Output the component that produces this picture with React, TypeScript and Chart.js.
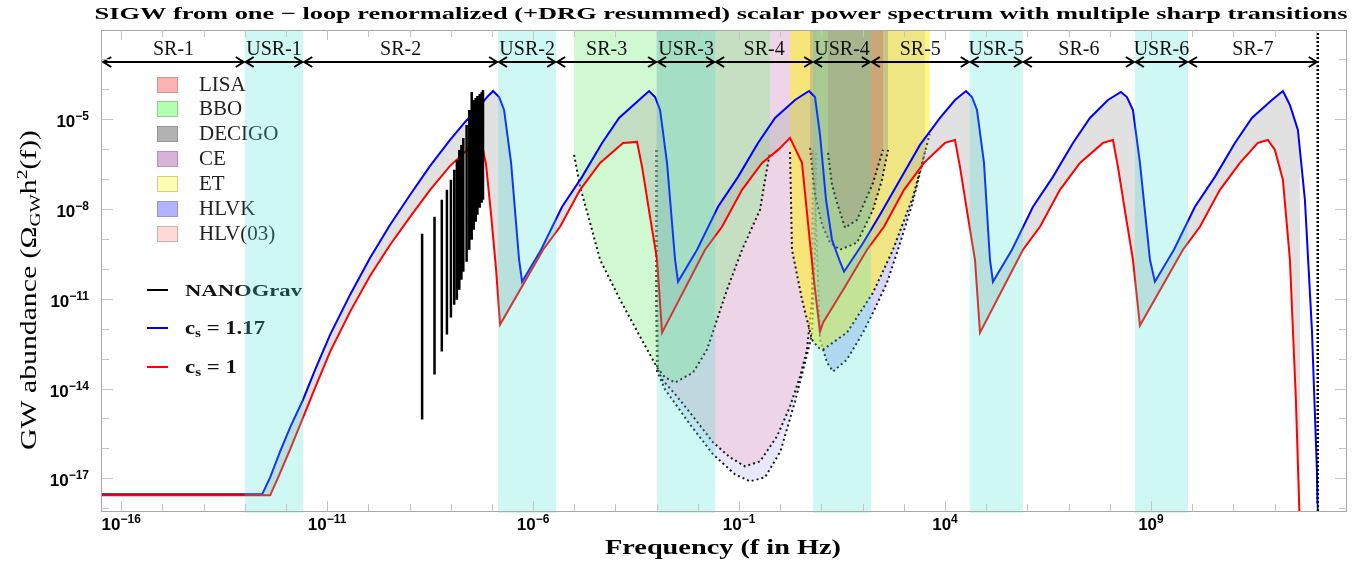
import React, { useEffect, useRef } from "react";
import { Chart, registerables } from "chart.js";

Chart.register(...registerables);

// ---- axis ranges (log10 units) ----
const X_LOG_MIN = -16.49;
const X_LOG_MAX = 13.76;
const Y_LOG_MIN = -18.09;
const Y_LOG_MAX = -2.03;

const X_TICK_LABEL_EXPS = [-16, -11, -6, -1, 4, 9];
const Y_TICK_LABEL_EXPS = [-17, -14, -11, -8, -5];

// ---- ultra-slow-roll windows (log10 f) ----
const USR_START = [-13.0, -6.85, -2.99, 0.8, 4.6, 8.61];
const USR_END = [-11.58, -5.44, -1.58, 2.2, 5.89, 9.9];
const REGION_EDGES = [-16.46, -13.0, -11.58, -6.85, -5.44, -2.99, -1.58, 0.8, 2.2, 4.6, 5.89, 8.61, 9.9, 13.05];
const REGION_LABELS = ["SR-1", "USR-1", "SR-2", "USR-2", "SR-3", "USR-3", "SR-4", "USR-4", "SR-5", "USR-5", "SR-6", "USR-6", "SR-7"];
const CUTOFF_LOGF = 13.05;

// ---- c_s = 1.17 (blue) ----
const BLUE_LOGF = [-16.485, -12.578, -12.383, -12.141, -11.898, -11.583, -11.291, -10.927, -10.442, -9.956, -9.471, -8.985, -8.5, -8.015, -7.65, -7.335, -7.092, -6.971, -6.825, -6.704, -6.534, -6.34, -6.267,
  -5.806, -5.296, -4.811, -4.325, -3.913, -3.427, -3.184, -3.039, -2.917, -2.748, -2.553, -2.481,
  -2.019, -1.51, -1.024, -0.539, -0.126, 0.359, 0.699, 0.845, 0.966, 1.112, 1.257, 1.451, 1.549,
  1.985, 2.422, 2.908, 3.393, 3.879, 4.243, 4.51, 4.655, 4.777, 4.947, 5.092, 5.165,
  5.626, 6.136, 6.621, 7.107, 7.519, 7.956, 8.272, 8.417, 8.563, 8.733, 8.976, 9.097,
  9.558, 10.068, 10.553, 11.039, 11.451, 11.937, 12.204, 12.374, 12.568, 12.738, 12.908, 13.029, 13.053];
const BLUE_LOGO = [-17.533, -17.533, -16.967, -16.1, -15.3, -14.367, -13.367, -12.2, -10.867, -9.633, -8.533, -7.533, -6.567, -5.7, -5.1, -4.633, -4.233, -4.067, -4.267, -4.7, -6.467, -9.7, -10.433,
  -9.367, -7.933, -6.933, -5.8, -4.967, -4.367, -4.067, -4.267, -4.7, -6.467, -9.7, -10.433,
  -9.367, -7.933, -6.933, -5.8, -4.967, -4.367, -4.067, -4.267, -5.533, -7.7, -9.033, -9.767, -10.1,
  -9.2, -8.2, -7.033, -5.867, -4.967, -4.367, -4.067, -4.267, -4.7, -6.467, -9.7, -10.433,
  -9.367, -7.933, -6.933, -5.8, -4.967, -4.367, -4.1, -4.267, -4.7, -6.467, -9.7, -10.433,
  -9.367, -7.933, -6.933, -5.8, -4.967, -4.367, -4.067, -4.533, -5.367, -7.7, -12.033, -16.7, -18.7];

// ---- c_s = 1 (red) ----
const RED_LOGF = [-16.485, -12.383, -12.189, -11.898, -11.583, -11.291, -10.927, -10.442, -9.956, -9.471, -8.985, -8.5, -8.015, -7.65, -7.335, -7.238, -7.141, -7.019, -6.898, -6.801,
  -5.757, -5.345, -4.859, -4.374, -3.816, -3.476, -3.354, -3.16, -2.99, -2.869,
  -1.825, -1.413, -0.927, -0.442, -0.053, 0.238, 0.529, 0.723, 0.845, 0.966,
  1.039, 1.573, 2.107, 2.519, 3.005, 3.49, 4.0, 4.243, 4.364, 4.558, 4.728, 4.85,
  5.893, 6.306, 6.791, 7.277, 7.835, 8.078, 8.199, 8.393, 8.563, 8.733,
  9.777, 10.189, 10.675, 11.16, 11.597, 11.84, 12.01, 12.204, 12.374, 12.519, 12.617];
const RED_LOGO = [-17.567, -17.567, -16.967, -16.033, -14.967, -13.967, -12.767, -11.433, -10.233, -9.2, -8.267, -7.367, -6.567, -6.1, -5.733, -5.867, -6.533, -8.2, -10.033, -11.867,
  -9.367, -8.6, -7.367, -6.467, -5.8, -5.767, -6.6, -8.267, -9.7, -12.133,
  -9.367, -8.6, -7.367, -6.467, -6.033, -5.633, -6.467, -9.133, -10.7, -12.1,
  -11.8, -10.6, -9.367, -8.6, -7.367, -6.467, -5.8, -5.7, -6.6, -8.267, -9.7, -12.133,
  -9.367, -8.6, -7.367, -6.467, -5.8, -5.7, -6.6, -8.267, -9.7, -11.9,
  -9.367, -8.6, -7.367, -6.467, -5.8, -5.7, -6.033, -7.033, -9.7, -14.367, -18.7];

// ---- detector sensitivity curves ----
const LISA_LOGF = [-5.005, -4.859, -4.617, -4.374, -3.889, -3.403, -2.99, -2.796, -2.553, -2.117, -1.777, -1.534, -1.291, -0.927, -0.49, -0.369, -0.248];
const LISA_LOGO = [-6.2, -7.267, -8.467, -9.7, -11.033, -12.267, -13.3, -13.633, -13.8, -13.467, -12.7, -11.7, -10.7, -9.367, -8.033, -7.033, -6.1];
const DECIGO_LOGF = [-2.99, -2.99, -2.966, -2.869, -2.505, -2.117, -1.631, -1.218, -0.854, -0.49, -0.078, 0.238, 0.481, 0.65, 0.772, 0.796];
const DECIGO_LOGO = [-6.033, -11.033, -13.367, -13.7, -14.267, -14.933, -15.8, -16.3, -16.6, -16.433, -15.6, -14.6, -13.6, -12.7, -11.033, -6.033];
const BBO_LOGF = [-3.015, -3.015, -2.99, -2.796, -2.189, -1.631, -1.097, -0.733, -0.369, 0.005, 0.359, 0.602, 0.772, 0.845, 0.869];
const BBO_LOGO = [-6.033, -11.033, -13.433, -14.033, -15.2, -16.2, -16.867, -17.1, -16.967, -16.1, -14.433, -13.133, -12.2, -9.367, -6.033];
const ET_LOGF = [0.238, 0.286, 0.529, 0.772, 0.917, 1.039, 1.621, 2.252, 2.738, 3.223, 3.515, 3.63];
const ET_LOGO = [-6.1, -9.367, -11.033, -12.367, -12.633, -12.7, -12.133, -10.8, -9.367, -7.6, -6.1, -5.5];
const CE_LOGF = [0.796, 0.893, 0.966, 1.136, 1.282, 1.621, 2.01, 2.252, 2.592, 2.859, 3.199, 3.442, 3.515];
const CE_LOGO = [-6.033, -9.367, -12.367, -13.133, -13.433, -13.033, -12.133, -11.467, -10.467, -9.367, -7.867, -6.533, -6.033];
const HLVK_LOGF = [0.723, 0.845, 1.015, 1.209, 1.451, 1.864, 2.252, 2.471, 2.617];
const HLVK_LOGO = [-5.967, -7.533, -8.533, -9.133, -9.367, -9.133, -8.033, -7.033, -6.033];
const HLV_LOGF = [1.16, 1.257, 1.379, 1.573, 1.864, 2.252, 2.495];
const HLV_LOGO = [-6.133, -7.2, -7.8, -8.633, -8.367, -7.133, -6.033];

// ---- NANOGrav free spectrum (log10 f, lower / upper log10 Omega) ----
const NANO_LOGF = [-8.694, -8.393, -8.216, -8.092, -7.995, -7.915, -7.85, -7.791, -7.74, -7.694, -7.614, -7.549, -7.49, -7.439, -7.393, -7.352, -7.296, -7.248, -7.216];
const NANO_LOW = [-15.033, -13.533, -12.767, -12.2, -11.633, -11.2, -11.033, -10.7, -10.367, -10.1, -9.767, -9.367, -9.033, -8.7, -8.433, -8.2, -7.967, -7.8, -7.7];
const NANO_HIGH = [-8.833, -8.267, -7.7, -7.367, -7.033, -6.7, -6.367, -6.033, -5.867, -5.633, -5.2, -4.7, -4.1, -4.367, -4.3, -4.233, -4.167, -4.1, -4.033];

const DETECTOR_NAMES = ["LISA", "BBO", "DECIGO", "CE", "ET", "HLVK", "HLV(03)"];
const DETECTOR_SWATCH = ["rgb(255,178,178)", "rgb(178,255,178)", "rgb(178,178,178)", "rgb(216,178,216)", "rgb(255,255,178)", "rgb(178,178,255)", "rgb(255,216,216)"];
const DETECTOR_EDGE = ["rgb(205,150,150)", "rgb(150,205,150)", "rgb(150,150,150)", "rgb(180,150,180)", "rgb(205,205,150)", "rgb(150,150,205)", "rgb(205,175,175)"];

const TITLE = "SIGW from one \u2212 loop renormalized (+DRG resummed) scalar power spectrum with multiple sharp transitions";

const SERIF = "'Liberation Serif', 'DejaVu Serif', serif";
const SANS = "'Liberation Sans', Arial, sans-serif";

type Part = { t: string; font: string; dy?: number };

function pts(lf: number[], lo: number[]) {
  return lf.map((v, i) => ({ x: Math.pow(10, v), y: Math.pow(10, lo[i]) }));
}

function drawParts(ctx: CanvasRenderingContext2D, parts: Part[], x: number, y: number, align: string, targetW?: number) {
  const ws: number[] = [];
  let total = 0;
  for (const p of parts) {
    ctx.font = p.font;
    const w = ctx.measureText(p.t).width;
    ws.push(w);
    total += w;
  }
  const s = targetW ? targetW / total : 1;
  const W = total * s;
  const x0 = align === "left" ? x : align === "center" ? x - W / 2 : x - W;
  ctx.save();
  ctx.textAlign = "left";
  ctx.textBaseline = "alphabetic";
  ctx.translate(x0, y);
  ctx.scale(s, 1);
  let cx = 0;
  parts.forEach((p, i) => {
    ctx.font = p.font;
    ctx.fillText(p.t, cx, p.dy || 0);
    cx += ws[i];
  });
  ctx.restore();
}

const overlayPlugin = {
  id: "overlay",
  beforeDraw(chart: any) {
    const ctx = chart.ctx as CanvasRenderingContext2D;
    ctx.save();
    ctx.fillStyle = "#ffffff";
    ctx.fillRect(0, 0, chart.width, chart.height);
    ctx.restore();
  },
  afterDatasetsDraw(chart: any) {
    const ctx = chart.ctx as CanvasRenderingContext2D;
    const a = chart.chartArea;
    const xs = chart.scales.x;
    const ys = chart.scales.y;
    const px = (lf: number) => xs.getPixelForValue(Math.pow(10, lf));
    const py = (lo: number) => ys.getPixelForValue(Math.pow(10, lo));
    ctx.save();

    // legend: detector swatches
    const rowY = [85, 109, 134, 159, 184, 209, 234];
    DETECTOR_NAMES.forEach((name, i) => {
      const cy = rowY[i];
      ctx.fillStyle = DETECTOR_SWATCH[i];
      ctx.fillRect(157, cy - 8, 21, 16);
      ctx.strokeStyle = DETECTOR_EDGE[i];
      ctx.lineWidth = 1;
      ctx.strokeRect(157.5, cy - 7.5, 20, 15);
      ctx.fillStyle = "#222";
      drawParts(ctx, [{ t: name, font: `21px ${SERIF}` }], 199, cy + 6, "left");
    });
    // legend: lines
    const lineRows = [
      { y: 290, c: "#000000" },
      { y: 328, c: "#0000ff" },
      { y: 367, c: "#ff0000" },
    ];
    lineRows.forEach((r) => {
      ctx.strokeStyle = r.c;
      ctx.lineWidth = 2;
      ctx.beginPath();
      ctx.moveTo(147, r.y);
      ctx.lineTo(168, r.y);
      ctx.stroke();
    });
    ctx.fillStyle = "#111";
    drawParts(ctx, [{ t: "NANOGrav", font: `bold 17px ${SERIF}` }], 185, 296, "left", 117);
    drawParts(ctx, [
      { t: "c", font: `bold 18px ${SERIF}` },
      { t: "s", font: `bold 12px ${SERIF}`, dy: 3 },
      { t: " = 1.17", font: `bold 18px ${SERIF}` },
    ], 185, 334, "left", 80);
    drawParts(ctx, [
      { t: "c", font: `bold 18px ${SERIF}` },
      { t: "s", font: `bold 12px ${SERIF}`, dy: 3 },
      { t: " = 1", font: `bold 18px ${SERIF}` },
    ], 185, 373, "left", 52);

    // USR bands (translucent, on top)
    ctx.fillStyle = "rgba(64,224,208,0.25)";
    for (let i = 0; i < USR_START.length; i++) {
      const x1 = px(USR_START[i]);
      const x2 = px(USR_END[i]);
      ctx.fillRect(x1, a.top, x2 - x1, a.bottom - a.top + 2);
    }

    // region arrows
    const ay = 62;
    ctx.strokeStyle = "#000";
    ctx.lineWidth = 2;
    ctx.lineJoin = "miter";
    for (let i = 0; i < REGION_LABELS.length; i++) {
      const x1 = px(REGION_EDGES[i]) + 1;
      const x2 = px(REGION_EDGES[i + 1]) - 1;
      ctx.beginPath();
      ctx.moveTo(x1, ay);
      ctx.lineTo(x2, ay);
      ctx.stroke();
      ctx.beginPath();
      ctx.moveTo(x1 + 8, ay - 5);
      ctx.lineTo(x1, ay);
      ctx.lineTo(x1 + 8, ay + 5);
      ctx.stroke();
      ctx.beginPath();
      ctx.moveTo(x2 - 8, ay - 5);
      ctx.lineTo(x2, ay);
      ctx.lineTo(x2 - 8, ay + 5);
      ctx.stroke();
      ctx.fillStyle = "#111";
      drawParts(ctx, [{ t: REGION_LABELS[i], font: `20px ${SERIF}` }], (x1 + x2) / 2, 55, "center");
    }

    // frame
    ctx.strokeStyle = "#a8a8a8";
    ctx.lineWidth = 1;
    ctx.strokeRect(a.left + 0.5, a.top + 0.5, a.right - a.left - 1, a.bottom - a.top);

    // ticks
    ctx.strokeStyle = "#c4c4c4";
    ctx.beginPath();
    for (let e = Math.ceil(X_LOG_MIN); e <= Math.floor(X_LOG_MAX); e++) {
      const x = Math.round(px(e)) + 0.5;
      const len = X_TICK_LABEL_EXPS.includes(e) ? 10 : 7;
      ctx.moveTo(x, a.bottom);
      ctx.lineTo(x, a.bottom - len);
      ctx.moveTo(x, a.top);
      ctx.lineTo(x, a.top + len);
    }
    for (let e = Math.ceil(Y_LOG_MIN); e <= Math.floor(Y_LOG_MAX); e++) {
      const y = Math.round(py(e)) + 0.5;
      const len = Y_TICK_LABEL_EXPS.includes(e) ? 12 : 8;
      ctx.moveTo(a.left, y);
      ctx.lineTo(a.left + len, y);
      ctx.moveTo(a.right, y);
      ctx.lineTo(a.right - len, y);
    }
    ctx.stroke();

    // tick labels
    ctx.fillStyle = "#000";
    X_TICK_LABEL_EXPS.forEach((e) => {
      const x = px(e);
      drawParts(ctx, [
        { t: "10", font: `bold 17px ${SANS}` },
        { t: (e < 0 ? "\u2212" : "") + Math.abs(e), font: `bold 12px ${SANS}`, dy: -7 },
      ], x, 530, "center");
    });
    Y_TICK_LABEL_EXPS.forEach((e) => {
      const y = py(e);
      drawParts(ctx, [
        { t: "10", font: `bold 17px ${SANS}` },
        { t: "\u2212" + Math.abs(e), font: `bold 12px ${SANS}`, dy: -7 },
      ], 89, y + 8, "right");
    });

    // axis titles
    ctx.fillStyle = "#000";
    drawParts(ctx, [{ t: "Frequency (f in Hz)", font: `bold 20px ${SERIF}` }], 723, 554, "center", 236);
    ctx.save();
    ctx.translate(36, 290);
    ctx.rotate(-Math.PI / 2);
    drawParts(ctx, [
      { t: "GW abundance (\u03A9", font: `23px ${SERIF}` },
      { t: "GW", font: `15px ${SERIF}`, dy: 4 },
      { t: "h", font: `23px ${SERIF}` },
      { t: "2", font: `15px ${SERIF}`, dy: -9 },
      { t: "(f))", font: `23px ${SERIF}` },
    ], 0, 0, "center", 320);
    ctx.restore();

    // title
    drawParts(ctx, [{ t: TITLE, font: `bold 17px ${SERIF}` }], 721, 19, "center", 1253);

    ctx.restore();
  },
};

export default function App() {
  const canvasRef = useRef<HTMLCanvasElement | null>(null);

  useEffect(() => {
    const canvas = canvasRef.current;
    if (!canvas) return;

    const dotted = (label: string, lf: number[], lo: number[], fillColor: string, order: number) => ({
      type: "line" as const,
      label,
      data: pts(lf, lo),
      borderColor: "rgba(0,0,0,0.9)",
      borderWidth: 2,
      borderDash: [2, 3],
      backgroundColor: fillColor,
      fill: "end",
      pointRadius: 0,
      order,
    });

    const nanoData: any[] = [];
    NANO_LOGF.forEach((f, i) => {
      nanoData.push({ x: Math.pow(10, f), y: Math.pow(10, NANO_LOW[i]) });
      nanoData.push({ x: Math.pow(10, f), y: Math.pow(10, NANO_HIGH[i]) });
      nanoData.push({ x: Math.pow(10, f), y: null });
    });

    const datasets: any[] = [
      {
        label: "cutoff",
        data: [
          { x: Math.pow(10, CUTOFF_LOGF), y: Math.pow(10, Y_LOG_MIN) },
          { x: Math.pow(10, CUTOFF_LOGF), y: Math.pow(10, Y_LOG_MAX) },
        ],
        borderColor: "#000",
        borderWidth: 2.5,
        borderDash: [2, 2],
        pointRadius: 0,
        fill: false,
        order: 0,
      },
      {
        label: "NANOGrav",
        data: nanoData,
        borderColor: "#000",
        borderWidth: 2.5,
        pointRadius: 0,
        fill: false,
        spanGaps: false,
        order: 1,
      },
      {
        label: "cs=1",
        data: pts(RED_LOGF, RED_LOGO),
        borderColor: "#ff0000",
        borderWidth: 2,
        pointRadius: 0,
        fill: false,
        order: 2,
      },
      {
        label: "cs=1.17",
        data: pts(BLUE_LOGF, BLUE_LOGO),
        borderColor: "#0000ff",
        borderWidth: 2,
        pointRadius: 0,
        fill: 2,
        backgroundColor: "rgba(170,170,170,0.35)",
        order: 3,
      },
      dotted("HLV(03)", HLV_LOGF, HLV_LOGO, "rgba(200,100,100,0.3)", 10),
      dotted("HLVK", HLVK_LOGF, HLVK_LOGO, "rgba(120,120,120,0.3)", 11),
      dotted("ET", ET_LOGF, ET_LOGO, "rgba(255,240,50,0.6)", 12),
      dotted("LISA", LISA_LOGF, LISA_LOGO, "rgba(140,240,140,0.4)", 13),
      dotted("DECIGO", DECIGO_LOGF, DECIGO_LOGO, "rgba(250,165,180,0.3)", 14),
      dotted("BBO", BBO_LOGF, BBO_LOGO, "rgba(180,180,245,0.3)", 15),
      dotted("CE", CE_LOGF, CE_LOGO, "rgba(120,120,250,0.3)", 16),
    ];

    const chart = new Chart(canvas, {
      type: "line",
      data: { datasets },
      options: {
        responsive: false,
        animation: false,
        devicePixelRatio: 1,
        layout: { padding: { left: 101, top: 30, right: 20, bottom: 56 } },
        plugins: {
          legend: { display: false },
          tooltip: { enabled: false },
          title: { display: false },
        },
        elements: { line: { tension: 0 }, point: { radius: 0 } },
        scales: {
          x: { type: "logarithmic", min: Math.pow(10, X_LOG_MIN), max: Math.pow(10, X_LOG_MAX), display: false },
          y: { type: "logarithmic", min: Math.pow(10, Y_LOG_MIN), max: Math.pow(10, Y_LOG_MAX), display: false },
        },
      },
      plugins: [overlayPlugin],
    } as any);

    return () => chart.destroy();
  }, []);

  return (
    <div style={{ position: "absolute", left: 0, top: 0, width: 1367, height: 567, background: "#fff" }}>
      <canvas ref={canvasRef} width={1367} height={567} style={{ display: "block" }} />
    </div>
  );
}
